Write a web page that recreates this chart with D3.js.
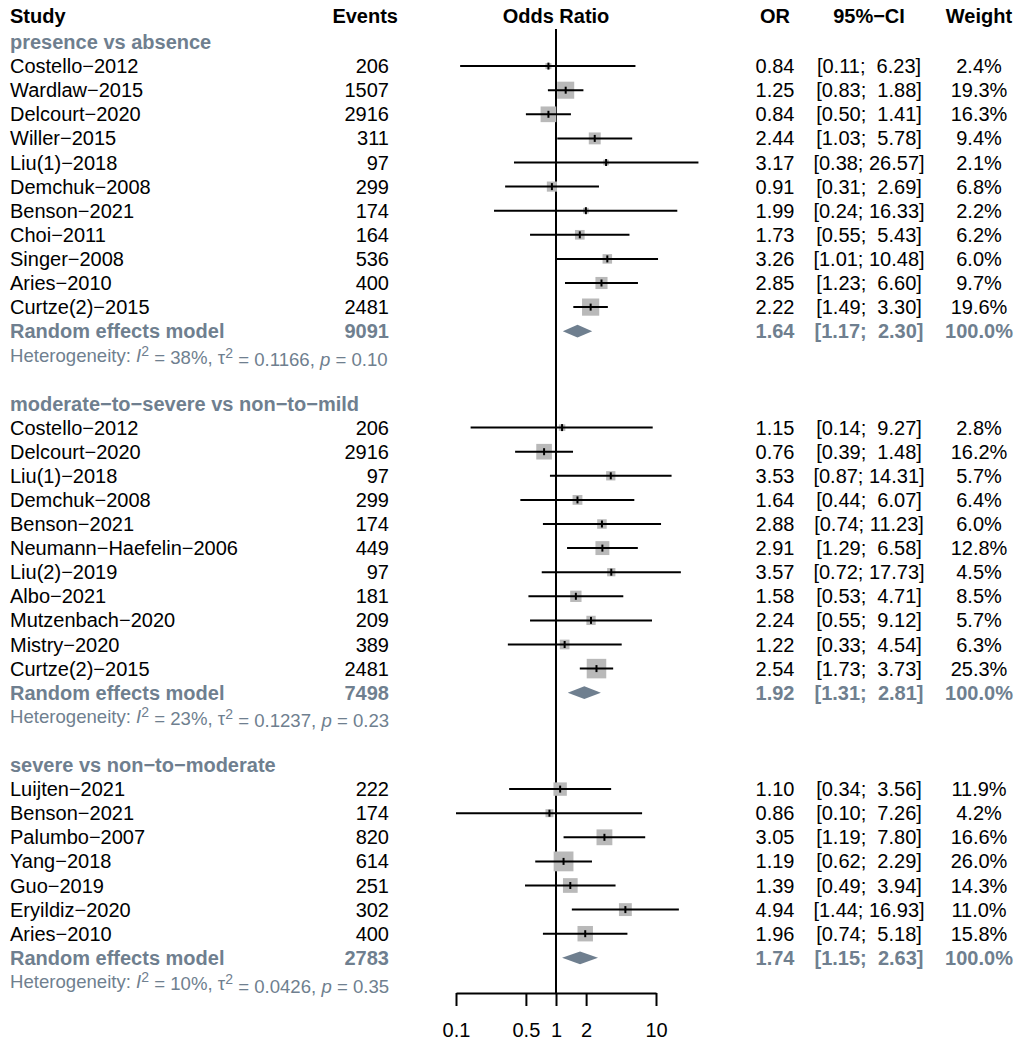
<!DOCTYPE html>
<html>
<head>
<meta charset="utf-8">
<script src="https://d3js.org/d3.v7.min.js"></script>
<style>
body { margin: 0; background: #fff; }
svg text { font-family: "Liberation Sans", Arial, sans-serif; font-size: 20px; white-space: pre; }
</style>
</head>
<body>
<svg id="chart" width="1021" height="1048"></svg>
<script>
// subgroups
var groupNames = ["presence vs absence", "moderate\u2212to\u2212severe vs non\u2212to\u2212mild", "severe vs non\u2212to\u2212moderate"];

// study level values, one inner array per subgroup
var studyNames = [
  ["Costello-2012", "Wardlaw-2015", "Delcourt-2020", "Willer-2015", "Liu(1)-2018", "Demchuk-2008",
   "Benson-2021", "Choi-2011", "Singer-2008", "Aries-2010", "Curtze(2)-2015"],
  ["Costello-2012", "Delcourt-2020", "Liu(1)-2018", "Demchuk-2008", "Benson-2021", "Neumann-Haefelin-2006",
   "Liu(2)-2019", "Albo-2021", "Mutzenbach-2020", "Mistry-2020", "Curtze(2)-2015"],
  ["Luijten-2021", "Benson-2021", "Palumbo-2007", "Yang-2018", "Guo-2019", "Eryildiz-2020", "Aries-2010"]
];
var studyEvents = [
  [206, 1507, 2916, 311, 97, 299, 174, 164, 536, 400, 2481],
  [206, 2916, 97, 299, 174, 449, 97, 181, 209, 389, 2481],
  [222, 174, 820, 614, 251, 302, 400]
];
var studyOR = [
  [0.84, 1.25, 0.84, 2.44, 3.17, 0.91, 1.99, 1.73, 3.26, 2.85, 2.22],
  [1.15, 0.76, 3.53, 1.64, 2.88, 2.91, 3.57, 1.58, 2.24, 1.22, 2.54],
  [1.10, 0.86, 3.05, 1.19, 1.39, 4.94, 1.96]
];
var ciLower = [
  [0.11, 0.83, 0.50, 1.03, 0.38, 0.31, 0.24, 0.55, 1.01, 1.23, 1.49],
  [0.14, 0.39, 0.87, 0.44, 0.74, 1.29, 0.72, 0.53, 0.55, 0.33, 1.73],
  [0.34, 0.10, 1.19, 0.62, 0.49, 1.44, 0.74]
];
var ciUpper = [
  [6.23, 1.88, 1.41, 5.78, 26.57, 2.69, 16.33, 5.43, 10.48, 6.60, 3.30],
  [9.27, 1.48, 14.31, 6.07, 11.23, 6.58, 17.73, 4.71, 9.12, 4.54, 3.73],
  [3.56, 7.26, 7.80, 2.29, 3.94, 16.93, 5.18]
];
var studyWeight = [
  [2.4, 19.3, 16.3, 9.4, 2.1, 6.8, 2.2, 6.2, 6.0, 9.7, 19.6],
  [2.8, 16.2, 5.7, 6.4, 6.0, 12.8, 4.5, 8.5, 5.7, 6.3, 25.3],
  [11.9, 4.2, 16.6, 26.0, 14.3, 11.0, 15.8]
];

// random effects summaries
var pooledEvents = [9091, 7498, 2783];
var pooledOR = [1.64, 1.92, 1.74];
var pooledLower = [1.17, 1.31, 1.15];
var pooledUpper = [2.30, 2.81, 2.63];
var hetI2 = ["38%", "23%", "10%"];
var hetTau2 = ["0.1166", "0.1237", "0.0426"];
var hetP = ["0.10", "0.23", "0.35"];

var axisTicks = [0.1, 0.5, 1, 2, 10];

var grey = "#6f7f8f";
var boxGrey = "#b9b9b9";
var svg = d3.select("#chart");
svg.append("rect").attr("width", 1021).attr("height", 1048).attr("fill", "#fff");

var x = d3.scaleLog().domain([0.1, 10]).range([456, 656]);
var boxSize = d3.scaleSqrt().domain([0, 26]).range([0, 19.8]);
var top0 = 42, step = 24.1;
var yRow = function(i) { return top0 + i * step; };
var minus = function(s) { return s.replace(/-/g, "\u2212"); };
var fmtCI = function(lo, hi) {
  return "[" + lo.toFixed(2) + "; " + hi.toFixed(2).padStart(5, " ") + "]";
};

// column header
var headY = 16;
function txt(g, s, xx, yy, anchor, opts) {
  opts = opts || {};
  return g.append("text").attr("x", xx).attr("y", yy).attr("dy", "0.35em")
    .attr("text-anchor", anchor)
    .attr("font-weight", opts.bold ? "bold" : null)
    .attr("fill", opts.color || "#000")
    .text(s);
}
var head = svg.append("g");
txt(head, "Study", 10, headY, "start", {bold: true});
txt(head, "Events", 398, headY, "end", {bold: true});
txt(head, "Odds Ratio", x(1), headY, "middle", {bold: true});
txt(head, "OR", 775, headY, "middle", {bold: true});
txt(head, "95%\u2212CI", 869, headY, "middle", {bold: true});
txt(head, "Weight", 979, headY, "middle", {bold: true});

// reference line at OR = 1
svg.append("line").attr("x1", x(1)).attr("x2", x(1)).attr("y1", 29).attr("y2", 993)
  .attr("stroke", "#000").attr("stroke-width", 2);

var row = 0;
groupNames.forEach(function(gname, gi) {
  var g = svg.append("g");
  txt(g, gname, 10, yRow(row), "start", {bold: true, color: grey});
  row++;
  studyNames[gi].forEach(function(name, i) {
    var y = yRow(row);
    txt(g, minus(name), 10, y, "start");
    txt(g, String(studyEvents[gi][i]), 389, y, "end");
    txt(g, studyOR[gi][i].toFixed(2), 775, y, "middle");
    txt(g, fmtCI(ciLower[gi][i], ciUpper[gi][i]), 869, y, "middle");
    txt(g, studyWeight[gi][i].toFixed(1) + "%", 979, y, "middle");
    var s = boxSize(studyWeight[gi][i]);
    var cx = x(studyOR[gi][i]);
    g.append("rect").attr("x", cx - s / 2).attr("y", y - s / 2)
      .attr("width", s).attr("height", s).attr("fill", boxGrey);
    g.append("line").attr("x1", x(ciLower[gi][i])).attr("x2", x(ciUpper[gi][i]))
      .attr("y1", y).attr("y2", y).attr("stroke", "#000").attr("stroke-width", 2);
    g.append("line").attr("x1", cx).attr("x2", cx).attr("y1", y - 3.5).attr("y2", y + 3.5)
      .attr("stroke", "#000").attr("stroke-width", 2);
    row++;
  });
  // pooled estimate
  var y = yRow(row);
  txt(g, "Random effects model", 10, y, "start", {bold: true, color: grey});
  txt(g, String(pooledEvents[gi]), 389, y, "end", {bold: true, color: grey});
  txt(g, pooledOR[gi].toFixed(2), 775, y, "middle", {bold: true, color: grey});
  txt(g, fmtCI(pooledLower[gi], pooledUpper[gi]), 869, y, "middle", {bold: true, color: grey});
  txt(g, "100.0%", 979, y, "middle", {bold: true, color: grey});
  var lo = x(pooledLower[gi]), hi = x(pooledUpper[gi]), mid = x(pooledOR[gi]), hh = 6.4;
  g.append("path")
    .attr("d", "M" + lo + "," + y + "L" + mid + "," + (y - hh) + "L" + hi + "," + y + "L" + mid + "," + (y + hh) + "Z")
    .attr("fill", grey);
  row++;
  // heterogeneity
  var t = g.append("text").attr("x", 10).attr("y", yRow(row)).attr("dy", "0.35em")
    .attr("fill", grey).style("font-size", "18.6px");
  t.append("tspan").text("Heterogeneity: ");
  t.append("tspan").attr("font-style", "italic").text("I");
  t.append("tspan").attr("dy", "-0.45em").style("font-size", "14px").text("2");
  t.append("tspan").attr("dy", "0.45em").text(" = " + hetI2[gi] + ", \u03c4");
  t.append("tspan").attr("dy", "-0.45em").style("font-size", "14px").text("2");
  t.append("tspan").attr("dy", "0.45em").text(" = " + hetTau2[gi] + ", ");
  t.append("tspan").attr("font-style", "italic").text("p");
  t.append("tspan").text(" = " + hetP[gi]);
  row += 2;
});

// axis
var axis = svg.append("g").attr("transform", "translate(0,993)")
  .call(d3.axisBottom(x).tickValues(axisTicks).tickSize(13).tickSizeOuter(0).tickPadding(17)
    .tickFormat(function(d) { return String(d); }));
axis.select(".domain").attr("stroke-width", 2);
axis.selectAll(".tick line").attr("stroke-width", 2);
axis.selectAll(".tick text").attr("font-size", null).attr("font-family", null).style("font-size", "20px");
axis.attr("font-family", null).attr("font-size", null);
</script>
</body>
</html>
